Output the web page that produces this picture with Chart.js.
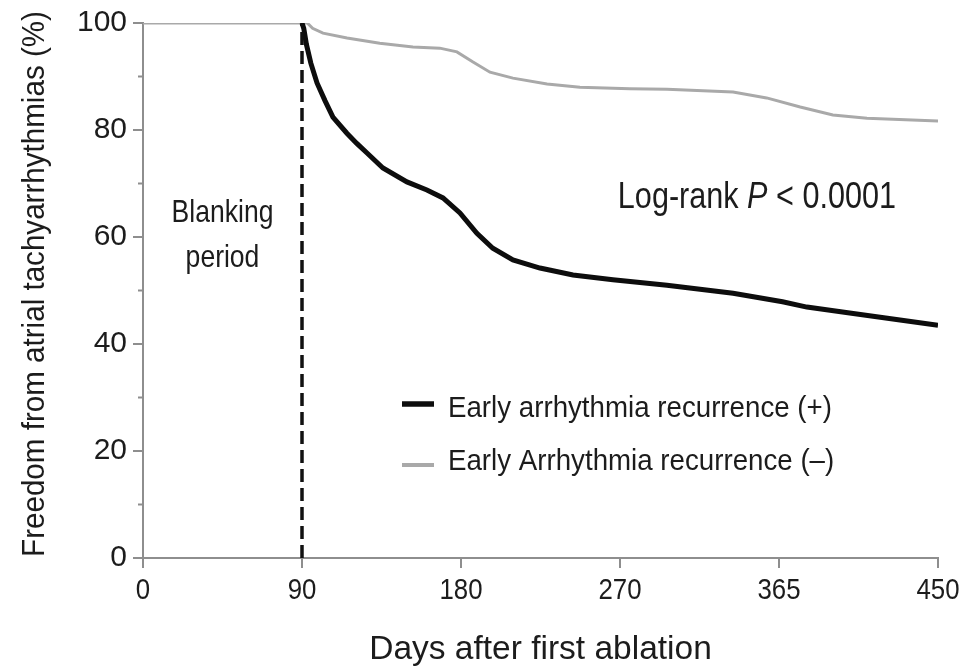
<!DOCTYPE html>
<html>
<head>
<meta charset="utf-8">
<script src="https://cdn.jsdelivr.net/npm/chart.js@4.4.1/dist/chart.umd.min.js"></script>
<style>
  html, body { margin: 0; padding: 0; background: #fff; }
  #wrap { width: 963px; height: 667px; }
</style>
</head>
<body>
<div id="wrap"><canvas id="km"></canvas></div>
<script>
// Kaplan-Meier curves: freedom from atrial tachyarrhythmias after first ablation
const xTicks = [0, 90, 180, 270, 360, 450];
const xTickLabels = ['0', '90', '180', '270', '365', '450'];
const yTicks = [0, 20, 40, 60, 80, 100];
const minorY = [10, 30, 50, 70, 90];

// early recurrence (+)
const daysPos = [90, 91, 92.5, 95, 98.5, 103, 107.5, 115.4, 121, 126.8, 135.8, 149.4, 160.7, 169.8, 179.4, 189, 198, 209.4, 224.7, 243.4, 266, 296.6, 334, 362, 375.8, 400, 428.5, 450];
const survPos = [100, 99, 96, 92.5, 88.8, 85.5, 82.4, 79.4, 77.5, 75.7, 72.9, 70.3, 68.8, 67.3, 64.5, 60.7, 57.9, 55.7, 54.2, 52.9, 52.0, 51.0, 49.5, 47.9, 46.9, 45.8, 44.5, 43.5];

// early recurrence (-)
const daysNeg = [0, 90, 93, 96, 101.9, 115.5, 134, 152.8, 168, 177.7, 186.8, 196.4, 209.4, 228.7, 247.3, 275.6, 296.6, 334, 353, 372, 390.5, 409.8, 450];
const survNeg = [100, 100, 100, 99, 98.1, 97.2, 96.2, 95.5, 95.3, 94.6, 92.7, 90.8, 89.7, 88.6, 88.0, 87.7, 87.6, 87.1, 86.0, 84.3, 82.8, 82.2, 81.7];

const blankingDay = 90;

const labelPos = 'Early arrhythmia recurrence (+)';
const labelNeg = 'Early Arrhythmia recurrence (\u2013)';

const family = '"Liberation Sans", Arial, Helvetica, sans-serif';
const axisColor = '#8e8e8e';
const textColor = '#1c1c1c';

const toPoints = (xs, ys) => xs.map((x, i) => ({ x: x, y: ys[i] }));

// helvetica-ish text, squeezed sideways by k
function txt(ctx, str, x, y, o) {
  ctx.save();
  ctx.translate(x, y);
  if (o.rot) ctx.rotate(o.rot);
  ctx.scale(o.k || 1, 1);
  ctx.font = (o.italic ? 'italic ' : '') + o.size + 'px ' + family;
  ctx.fillStyle = textColor;
  ctx.textAlign = o.align || 'left';
  ctx.textBaseline = o.base || 'alphabetic';
  ctx.fillText(str, 0, 0);
  const w = ctx.measureText(str).width * (o.k || 1);
  ctx.restore();
  return w;
}

function width(ctx, str, size, k, italic) {
  ctx.save();
  ctx.font = (italic ? 'italic ' : '') + size + 'px ' + family;
  const w = ctx.measureText(str).width * k;
  ctx.restore();
  return w;
}

// tick labels, axis titles, minor ticks, notes and legend
const extras = {
  id: 'extras',
  afterDraw(chart) {
    const ctx = chart.ctx;
    const xs = chart.scales.x;
    const ys = chart.scales.y;
    const area = chart.chartArea;

    ctx.save();
    ctx.strokeStyle = axisColor;
    ctx.lineWidth = 2;
    minorY.forEach(v => {
      const y = ys.getPixelForValue(v);
      ctx.beginPath();
      ctx.moveTo(area.left - 5, y);
      ctx.lineTo(area.left, y);
      ctx.stroke();
    });
    ctx.restore();

    yTicks.forEach(v => {
      txt(ctx, String(v), area.left - 16, ys.getPixelForValue(v), { size: 30, k: 1, align: 'right', base: 'middle' });
    });
    xTicks.forEach((v, i) => {
      txt(ctx, xTickLabels[i], xs.getPixelForValue(v), area.bottom + 33, { size: 30, k: 0.86, align: 'center', base: 'middle' });
    });

    txt(ctx, 'Days after first ablation', (area.left + area.right) / 2, 659, { size: 33.5, k: 1, align: 'center' });
    txt(ctx, 'Freedom from atrial tachyarrhythmias (%)', 36, 284, { size: 30.5, k: 0.97, align: 'center', base: 'middle', rot: -Math.PI / 2 });

    const bx = xs.getPixelForValue(45);
    txt(ctx, 'Blanking', bx, 222, { size: 30.5, k: 0.87, align: 'center' });
    txt(ctx, 'period', bx, 267, { size: 30.5, k: 0.87, align: 'center' });

    // Log-rank P < 0.0001, P in italics
    const lrSize = 36, lrK = 0.85;
    const parts = [['Log-rank ', false], ['P', true], [' < 0.0001', false]];
    const total = parts.reduce((s, p) => s + width(ctx, p[0], lrSize, lrK, p[1]), 0);
    let lx = xs.getPixelForValue(347.5) - total / 2;
    parts.forEach(p => {
      lx += txt(ctx, p[0], lx, 208, { size: lrSize, k: lrK, italic: p[1] });
    });

    // legend
    const rows = [chart.data.datasets[1], chart.data.datasets[0]];
    const lineY = [404, 465];
    const baseY = [417, 470];
    rows.forEach((ds, i) => {
      ctx.save();
      ctx.strokeStyle = ds.borderColor;
      ctx.lineWidth = i === 0 ? 5.5 : 4;
      ctx.beginPath();
      ctx.moveTo(402, lineY[i]);
      ctx.lineTo(434, lineY[i]);
      ctx.stroke();
      ctx.restore();
      txt(ctx, ds.label, 448, baseY[i], { size: 30.3, k: 0.914 });
    });
  }
};

new Chart(document.getElementById('km'), {
  type: 'line',
  data: {
    datasets: [
      {
        label: labelNeg,
        data: toPoints(daysNeg, survNeg),
        borderColor: '#a9a9a9',
        borderWidth: 3,
        pointRadius: 0,
        tension: 0,
        order: 2
      },
      {
        label: labelPos,
        data: toPoints(daysPos, survPos),
        borderColor: '#0d0d0d',
        borderWidth: 5,
        pointRadius: 0,
        tension: 0,
        order: 1
      },
      {
        label: 'blanking',
        data: [{ x: blankingDay, y: 0 }, { x: blankingDay, y: 100 }],
        borderColor: '#111',
        borderWidth: 3.5,
        borderDash: [13, 6],
        pointRadius: 0,
        order: 0
      }
    ]
  },
  options: {
    responsive: true,
    maintainAspectRatio: false,
    animation: false,
    layout: { padding: { top: 23, right: 25, left: 0, bottom: 0 } },
    plugins: {
      legend: { display: false },
      tooltip: { enabled: false }
    },
    scales: {
      x: {
        type: 'linear',
        min: 0,
        max: 450,
        afterFit: s => { s.height = 109; },
        afterBuildTicks: s => { s.ticks = xTicks.map(v => ({ value: v })); },
        border: { display: true, color: axisColor, width: 2 },
        grid: { drawOnChartArea: false, drawTicks: true, tickLength: 10, color: axisColor, lineWidth: 2 },
        ticks: { display: false }
      },
      y: {
        min: 0,
        max: 100,
        afterFit: s => { s.width = 143; },
        afterBuildTicks: s => { s.ticks = yTicks.map(v => ({ value: v })); },
        border: { display: true, color: axisColor, width: 2 },
        grid: { drawOnChartArea: false, drawTicks: true, tickLength: 10, color: axisColor, lineWidth: 2 },
        ticks: { display: false }
      }
    }
  },
  plugins: [extras]
});
</script>
</body>
</html>
